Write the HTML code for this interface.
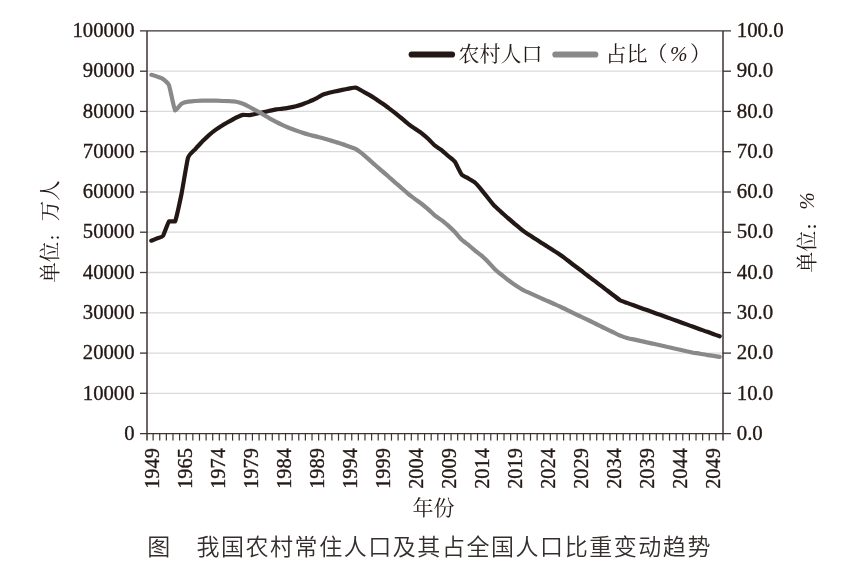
<!DOCTYPE html>
<html lang="zh-CN">
<head>
<meta charset="utf-8">
<title>我国农村常住人口及其占全国人口比重变动趋势</title>
<style>
html,body{margin:0;padding:0;background:#fff;}
body{width:847px;height:577px;overflow:hidden;}
svg{display:block;}
.num{font-family:"Liberation Serif","Noto Serif CJK SC",serif;font-size:21px;fill:#231815;stroke:#231815;stroke-width:0.35px;}
.cn{font-family:"Liberation Serif","Noto Serif CJK SC",serif;font-size:21px;fill:#231815;}
.title{font-family:"Liberation Sans","Noto Sans CJK SC",sans-serif;font-size:23px;letter-spacing:1.55px;font-weight:350;fill:#342e2c;}
</style>
</head>
<body>
<svg width="847" height="577" viewBox="0 0 847 577">
<rect width="847" height="577" fill="#fff"/>

<g stroke="#dadada" stroke-width="1.3">
<line x1="147.0" y1="393.3" x2="723.0" y2="393.3"/>
<line x1="147.0" y1="353.1" x2="723.0" y2="353.1"/>
<line x1="147.0" y1="312.8" x2="723.0" y2="312.8"/>
<line x1="147.0" y1="272.5" x2="723.0" y2="272.5"/>
<line x1="147.0" y1="232.2" x2="723.0" y2="232.2"/>
<line x1="147.0" y1="192.0" x2="723.0" y2="192.0"/>
<line x1="147.0" y1="151.7" x2="723.0" y2="151.7"/>
<line x1="147.0" y1="111.4" x2="723.0" y2="111.4"/>
<line x1="147.0" y1="71.2" x2="723.0" y2="71.2"/>
</g>
<path d="M151.3,240.7 C151.8,240.5 156.2,238.7 157.1,238.3 C158.1,237.9 162.0,237.3 163.0,235.9 C163.9,234.5 168.0,222.6 169.0,221.4 C170.0,221.4 174.0,221.4 175.1,221.4 C176.1,219.1 180.4,199.3 181.5,194.0 C182.6,188.7 186.9,161.5 188.0,157.8 C189.2,154.0 193.9,150.6 195.1,149.3 C196.2,148.0 201.0,142.9 202.2,141.6 C203.4,140.4 208.1,135.8 209.3,134.8 C210.5,133.8 215.1,130.2 216.2,129.4 C217.4,128.5 222.0,125.6 223.1,124.9 C224.3,124.2 228.7,121.7 229.8,121.1 C230.9,120.5 235.3,118.0 236.4,117.5 C237.5,117.0 241.9,115.1 243.0,114.9 C244.1,114.9 248.5,115.1 249.6,115.1 C250.7,115.0 255.1,113.9 256.2,113.7 C257.3,113.4 261.8,112.5 262.9,112.2 C264.0,112.0 268.4,111.1 269.5,110.8 C270.6,110.6 275.0,109.6 276.1,109.4 C277.2,109.2 281.6,108.8 282.7,108.6 C283.8,108.5 288.2,107.8 289.3,107.6 C290.4,107.4 294.9,106.5 296.0,106.2 C297.1,105.9 301.5,104.6 302.6,104.2 C303.7,103.8 308.1,102.0 309.2,101.6 C310.3,101.1 314.7,99.3 315.8,98.7 C316.9,98.1 321.3,95.3 322.4,94.8 C323.6,94.3 328.0,93.1 329.1,92.8 C330.2,92.5 334.6,91.6 335.7,91.3 C336.8,91.1 341.2,90.1 342.3,89.9 C343.4,89.7 347.8,88.8 348.9,88.6 C350.0,88.4 354.4,87.5 355.6,87.5 C356.7,87.7 361.1,90.4 362.2,91.0 C363.3,91.6 367.7,94.0 368.8,94.6 C369.9,95.3 374.3,98.0 375.4,98.7 C376.5,99.5 380.9,102.5 382.0,103.2 C383.1,104.0 387.6,107.2 388.7,108.1 C389.8,108.9 394.2,112.3 395.3,113.2 C396.4,114.1 400.8,117.6 401.9,118.5 C403.0,119.4 407.4,123.3 408.5,124.1 C409.6,125.0 414.0,128.0 415.1,128.7 C416.2,129.5 420.7,132.6 421.8,133.4 C422.9,134.3 427.3,138.0 428.4,139.0 C429.5,140.0 433.9,144.8 435.0,145.7 C436.1,146.6 440.5,149.2 441.6,150.1 C442.7,151.0 447.1,155.0 448.2,156.0 C449.3,157.0 453.8,160.3 454.9,161.8 C456.0,163.3 460.4,172.9 461.5,174.3 C462.6,175.6 467.0,177.6 468.1,178.3 C469.2,179.0 473.6,181.4 474.7,182.3 C475.8,183.3 480.2,188.3 481.3,189.6 C482.4,190.9 486.9,196.6 488.0,198.0 C489.1,199.4 493.5,204.9 494.6,206.1 C495.7,207.2 500.1,211.1 501.2,212.1 C502.3,213.1 506.7,217.0 507.8,218.0 C508.9,218.9 513.3,222.6 514.4,223.6 C515.6,224.6 520.5,228.8 521.6,229.6 C522.7,230.5 526.6,233.2 527.7,233.9 C528.8,234.6 533.2,237.4 534.3,238.2 C535.4,238.9 539.8,241.7 540.9,242.4 C542.0,243.1 546.4,246.0 547.6,246.7 C548.7,247.4 553.1,250.2 554.2,250.9 C555.3,251.7 559.7,254.4 560.8,255.2 C561.9,256.0 566.3,259.4 567.4,260.2 C568.5,261.1 572.9,264.4 574.0,265.3 C575.1,266.1 579.6,269.5 580.7,270.3 C581.8,271.1 586.2,274.5 587.3,275.3 C588.4,276.2 592.8,279.5 593.9,280.4 C595.0,281.2 599.4,284.6 600.5,285.4 C601.6,286.2 606.0,289.6 607.1,290.4 C608.2,291.3 612.7,294.6 613.8,295.5 C614.9,296.3 619.3,299.9 620.4,300.5 C621.5,301.1 625.9,302.5 627.0,302.9 C628.1,303.3 632.5,304.9 633.6,305.3 C634.7,305.7 639.1,307.3 640.2,307.7 C641.3,308.1 645.8,309.7 646.9,310.1 C648.0,310.5 652.4,312.1 653.5,312.5 C654.6,312.9 659.0,314.4 660.1,314.8 C661.2,315.2 665.6,316.8 666.7,317.2 C667.8,317.6 672.2,319.2 673.3,319.6 C674.4,320.0 678.9,321.6 680.0,322.0 C681.1,322.4 685.5,324.0 686.6,324.4 C687.7,324.8 692.1,326.4 693.2,326.8 C694.3,327.2 698.7,328.8 699.8,329.2 C700.9,329.6 705.3,331.2 706.4,331.6 C707.6,332.0 712.0,333.6 713.1,334.0 C714.2,334.4 719.1,336.1 719.7,336.3" fill="none" stroke="#231815" stroke-width="4.2" stroke-linejoin="round" stroke-linecap="round"/>
<path d="M151.3,74.8 C151.8,74.9 156.2,76.3 157.1,76.6 C158.1,77.0 162.0,78.3 163.0,79.0 C163.9,79.7 168.0,82.6 169.0,85.3 C170.0,87.9 174.0,108.9 175.1,110.4 C176.1,110.4 180.4,104.5 181.5,103.8 C182.6,103.1 186.9,101.8 188.0,101.6 C189.2,101.3 193.9,101.1 195.1,101.0 C196.2,100.9 201.0,100.6 202.2,100.6 C203.4,100.6 208.1,100.6 209.3,100.6 C210.5,100.6 215.1,100.6 216.2,100.6 C217.4,100.6 222.0,100.9 223.1,101.0 C224.3,101.0 228.7,101.1 229.8,101.2 C230.9,101.2 235.3,101.6 236.4,101.8 C237.5,102.0 241.9,103.4 243.0,103.8 C244.1,104.2 248.5,106.4 249.6,107.0 C250.7,107.6 255.1,110.0 256.2,110.6 C257.3,111.2 261.8,113.6 262.9,114.3 C264.0,114.9 268.4,117.6 269.5,118.3 C270.6,118.9 275.0,121.3 276.1,121.9 C277.2,122.5 281.6,124.6 282.7,125.1 C283.8,125.6 288.2,127.5 289.3,128.0 C290.4,128.4 294.9,130.0 296.0,130.4 C297.1,130.8 301.5,132.4 302.6,132.8 C303.7,133.2 308.1,134.5 309.2,134.8 C310.3,135.1 314.7,136.1 315.8,136.4 C316.9,136.7 321.3,137.7 322.4,138.0 C323.6,138.3 328.0,139.7 329.1,140.0 C330.2,140.4 334.6,141.7 335.7,142.0 C336.8,142.4 341.2,143.7 342.3,144.1 C343.4,144.4 347.8,146.1 348.9,146.5 C350.0,146.9 354.4,148.3 355.6,148.9 C356.7,149.5 361.1,152.8 362.2,153.6 C363.3,154.5 367.7,158.4 368.8,159.4 C369.9,160.4 374.3,164.2 375.4,165.2 C376.5,166.2 380.9,170.0 382.0,171.0 C383.1,171.9 387.6,175.8 388.7,176.8 C389.8,177.7 394.2,181.6 395.3,182.6 C396.4,183.5 400.8,187.4 401.9,188.3 C403.0,189.3 407.4,193.2 408.5,194.1 C409.6,195.0 414.0,198.2 415.1,199.1 C416.2,199.9 420.7,203.2 421.8,204.0 C422.9,204.9 427.3,208.5 428.4,209.5 C429.5,210.4 433.9,214.8 435.0,215.7 C436.1,216.6 440.5,219.3 441.6,220.1 C442.7,221.0 447.1,224.6 448.2,225.6 C449.3,226.6 453.8,230.9 454.9,232.0 C456.0,233.2 460.4,238.6 461.5,239.6 C462.6,240.7 467.0,243.8 468.1,244.7 C469.2,245.6 473.6,249.4 474.7,250.3 C475.8,251.2 480.2,254.5 481.3,255.4 C482.4,256.4 486.9,260.6 488.0,261.8 C489.1,262.9 493.5,267.8 494.6,268.9 C495.7,270.0 500.1,273.6 501.2,274.5 C502.3,275.4 506.7,278.9 507.8,279.8 C508.9,280.6 513.3,283.8 514.4,284.6 C515.6,285.4 520.5,288.6 521.6,289.2 C522.7,289.9 526.6,291.7 527.7,292.2 C528.8,292.7 533.2,294.6 534.3,295.1 C535.4,295.6 539.8,297.6 540.9,298.1 C542.0,298.6 546.4,300.6 547.6,301.0 C548.7,301.5 553.1,303.5 554.2,304.0 C555.3,304.5 559.7,306.4 560.8,307.0 C561.9,307.5 566.3,309.6 567.4,310.2 C568.5,310.7 572.9,312.8 574.0,313.3 C575.1,313.9 579.6,316.0 580.7,316.5 C581.8,317.1 586.2,319.2 587.3,319.7 C588.4,320.3 592.8,322.4 593.9,322.9 C595.0,323.5 599.4,325.6 600.5,326.1 C601.6,326.7 606.0,328.8 607.1,329.3 C608.2,329.9 612.7,332.0 613.8,332.5 C614.9,333.1 619.3,335.3 620.4,335.7 C621.5,336.2 625.9,337.7 627.0,338.0 C628.1,338.3 632.5,339.2 633.6,339.4 C634.7,339.7 639.1,340.7 640.2,340.9 C641.3,341.1 645.8,342.1 646.9,342.4 C648.0,342.6 652.4,343.6 653.5,343.8 C654.6,344.1 659.0,345.1 660.1,345.3 C661.2,345.6 665.6,346.5 666.7,346.8 C667.8,347.0 672.2,348.0 673.3,348.2 C674.4,348.5 678.9,349.5 680.0,349.7 C681.1,350.0 685.5,350.9 686.6,351.2 C687.7,351.4 692.1,352.4 693.2,352.7 C694.3,352.9 698.7,353.5 699.8,353.7 C700.9,353.9 705.3,354.6 706.4,354.8 C707.6,354.9 712.0,355.7 713.1,355.8 C714.2,356.0 719.1,356.8 719.7,356.9" fill="none" stroke="#898989" stroke-width="4.2" stroke-linejoin="round" stroke-linecap="round"/>
<g stroke="#3a3330" stroke-width="1.3" fill="none">
<line x1="140.0" y1="30.9" x2="731.0" y2="30.9"/>
<line x1="147.0" y1="30.9" x2="147.0" y2="440.6" stroke-width="1.5"/>
<line x1="723.0" y1="30.9" x2="723.0" y2="440.6" stroke-width="1.5"/>
<line x1="140.0" y1="433.6" x2="731.0" y2="433.6"/>
<line x1="140.0" y1="393.3" x2="147.0" y2="393.3"/>
<line x1="723.0" y1="393.3" x2="731.0" y2="393.3"/>
<line x1="140.0" y1="353.1" x2="147.0" y2="353.1"/>
<line x1="723.0" y1="353.1" x2="731.0" y2="353.1"/>
<line x1="140.0" y1="312.8" x2="147.0" y2="312.8"/>
<line x1="723.0" y1="312.8" x2="731.0" y2="312.8"/>
<line x1="140.0" y1="272.5" x2="147.0" y2="272.5"/>
<line x1="723.0" y1="272.5" x2="731.0" y2="272.5"/>
<line x1="140.0" y1="232.2" x2="147.0" y2="232.2"/>
<line x1="723.0" y1="232.2" x2="731.0" y2="232.2"/>
<line x1="140.0" y1="192.0" x2="147.0" y2="192.0"/>
<line x1="723.0" y1="192.0" x2="731.0" y2="192.0"/>
<line x1="140.0" y1="151.7" x2="147.0" y2="151.7"/>
<line x1="723.0" y1="151.7" x2="731.0" y2="151.7"/>
<line x1="140.0" y1="111.4" x2="147.0" y2="111.4"/>
<line x1="723.0" y1="111.4" x2="731.0" y2="111.4"/>
<line x1="140.0" y1="71.2" x2="147.0" y2="71.2"/>
<line x1="723.0" y1="71.2" x2="731.0" y2="71.2"/>
</g>
<g stroke="#3a3330" stroke-width="1.2">
<line x1="153.12" y1="433.6" x2="153.12" y2="440.6"/>
<line x1="159.74" y1="433.6" x2="159.74" y2="440.6"/>
<line x1="166.36" y1="433.6" x2="166.36" y2="440.6"/>
<line x1="172.98" y1="433.6" x2="172.98" y2="440.6"/>
<line x1="179.60" y1="433.6" x2="179.60" y2="440.6"/>
<line x1="186.22" y1="433.6" x2="186.22" y2="440.6"/>
<line x1="192.84" y1="433.6" x2="192.84" y2="440.6"/>
<line x1="199.47" y1="433.6" x2="199.47" y2="440.6"/>
<line x1="206.09" y1="433.6" x2="206.09" y2="440.6"/>
<line x1="212.71" y1="433.6" x2="212.71" y2="440.6"/>
<line x1="219.33" y1="433.6" x2="219.33" y2="440.6"/>
<line x1="225.95" y1="433.6" x2="225.95" y2="440.6"/>
<line x1="232.57" y1="433.6" x2="232.57" y2="440.6"/>
<line x1="239.19" y1="433.6" x2="239.19" y2="440.6"/>
<line x1="245.81" y1="433.6" x2="245.81" y2="440.6"/>
<line x1="252.43" y1="433.6" x2="252.43" y2="440.6"/>
<line x1="259.05" y1="433.6" x2="259.05" y2="440.6"/>
<line x1="265.67" y1="433.6" x2="265.67" y2="440.6"/>
<line x1="272.29" y1="433.6" x2="272.29" y2="440.6"/>
<line x1="278.91" y1="433.6" x2="278.91" y2="440.6"/>
<line x1="285.53" y1="433.6" x2="285.53" y2="440.6"/>
<line x1="292.16" y1="433.6" x2="292.16" y2="440.6"/>
<line x1="298.78" y1="433.6" x2="298.78" y2="440.6"/>
<line x1="305.40" y1="433.6" x2="305.40" y2="440.6"/>
<line x1="312.02" y1="433.6" x2="312.02" y2="440.6"/>
<line x1="318.64" y1="433.6" x2="318.64" y2="440.6"/>
<line x1="325.26" y1="433.6" x2="325.26" y2="440.6"/>
<line x1="331.88" y1="433.6" x2="331.88" y2="440.6"/>
<line x1="338.50" y1="433.6" x2="338.50" y2="440.6"/>
<line x1="345.12" y1="433.6" x2="345.12" y2="440.6"/>
<line x1="351.74" y1="433.6" x2="351.74" y2="440.6"/>
<line x1="358.36" y1="433.6" x2="358.36" y2="440.6"/>
<line x1="364.98" y1="433.6" x2="364.98" y2="440.6"/>
<line x1="371.60" y1="433.6" x2="371.60" y2="440.6"/>
<line x1="378.22" y1="433.6" x2="378.22" y2="440.6"/>
<line x1="384.84" y1="433.6" x2="384.84" y2="440.6"/>
<line x1="391.47" y1="433.6" x2="391.47" y2="440.6"/>
<line x1="398.09" y1="433.6" x2="398.09" y2="440.6"/>
<line x1="404.71" y1="433.6" x2="404.71" y2="440.6"/>
<line x1="411.33" y1="433.6" x2="411.33" y2="440.6"/>
<line x1="417.95" y1="433.6" x2="417.95" y2="440.6"/>
<line x1="424.57" y1="433.6" x2="424.57" y2="440.6"/>
<line x1="431.19" y1="433.6" x2="431.19" y2="440.6"/>
<line x1="437.81" y1="433.6" x2="437.81" y2="440.6"/>
<line x1="444.43" y1="433.6" x2="444.43" y2="440.6"/>
<line x1="451.05" y1="433.6" x2="451.05" y2="440.6"/>
<line x1="457.67" y1="433.6" x2="457.67" y2="440.6"/>
<line x1="464.29" y1="433.6" x2="464.29" y2="440.6"/>
<line x1="470.91" y1="433.6" x2="470.91" y2="440.6"/>
<line x1="477.53" y1="433.6" x2="477.53" y2="440.6"/>
<line x1="484.16" y1="433.6" x2="484.16" y2="440.6"/>
<line x1="490.78" y1="433.6" x2="490.78" y2="440.6"/>
<line x1="497.40" y1="433.6" x2="497.40" y2="440.6"/>
<line x1="504.02" y1="433.6" x2="504.02" y2="440.6"/>
<line x1="510.64" y1="433.6" x2="510.64" y2="440.6"/>
<line x1="517.26" y1="433.6" x2="517.26" y2="440.6"/>
<line x1="523.88" y1="433.6" x2="523.88" y2="440.6"/>
<line x1="530.50" y1="433.6" x2="530.50" y2="440.6"/>
<line x1="537.12" y1="433.6" x2="537.12" y2="440.6"/>
<line x1="543.74" y1="433.6" x2="543.74" y2="440.6"/>
<line x1="550.36" y1="433.6" x2="550.36" y2="440.6"/>
<line x1="556.98" y1="433.6" x2="556.98" y2="440.6"/>
<line x1="563.60" y1="433.6" x2="563.60" y2="440.6"/>
<line x1="570.22" y1="433.6" x2="570.22" y2="440.6"/>
<line x1="576.84" y1="433.6" x2="576.84" y2="440.6"/>
<line x1="583.47" y1="433.6" x2="583.47" y2="440.6"/>
<line x1="590.09" y1="433.6" x2="590.09" y2="440.6"/>
<line x1="596.71" y1="433.6" x2="596.71" y2="440.6"/>
<line x1="603.33" y1="433.6" x2="603.33" y2="440.6"/>
<line x1="609.95" y1="433.6" x2="609.95" y2="440.6"/>
<line x1="616.57" y1="433.6" x2="616.57" y2="440.6"/>
<line x1="623.19" y1="433.6" x2="623.19" y2="440.6"/>
<line x1="629.81" y1="433.6" x2="629.81" y2="440.6"/>
<line x1="636.43" y1="433.6" x2="636.43" y2="440.6"/>
<line x1="643.05" y1="433.6" x2="643.05" y2="440.6"/>
<line x1="649.67" y1="433.6" x2="649.67" y2="440.6"/>
<line x1="656.29" y1="433.6" x2="656.29" y2="440.6"/>
<line x1="662.91" y1="433.6" x2="662.91" y2="440.6"/>
<line x1="669.53" y1="433.6" x2="669.53" y2="440.6"/>
<line x1="676.16" y1="433.6" x2="676.16" y2="440.6"/>
<line x1="682.78" y1="433.6" x2="682.78" y2="440.6"/>
<line x1="689.40" y1="433.6" x2="689.40" y2="440.6"/>
<line x1="696.02" y1="433.6" x2="696.02" y2="440.6"/>
<line x1="702.64" y1="433.6" x2="702.64" y2="440.6"/>
<line x1="709.26" y1="433.6" x2="709.26" y2="440.6"/>
<line x1="715.88" y1="433.6" x2="715.88" y2="440.6"/>
</g>
<g class="num" text-anchor="end">
<text transform="translate(134.5,439.8) scale(0.985,1)">0</text>
<text transform="translate(134.5,399.5) scale(0.985,1)">10000</text>
<text transform="translate(134.5,359.3) scale(0.985,1)">20000</text>
<text transform="translate(134.5,319.0) scale(0.985,1)">30000</text>
<text transform="translate(134.5,278.7) scale(0.985,1)">40000</text>
<text transform="translate(134.5,238.4) scale(0.985,1)">50000</text>
<text transform="translate(134.5,198.2) scale(0.985,1)">60000</text>
<text transform="translate(134.5,157.9) scale(0.985,1)">70000</text>
<text transform="translate(134.5,117.6) scale(0.985,1)">80000</text>
<text transform="translate(134.5,77.4) scale(0.985,1)">90000</text>
<text transform="translate(134.5,37.1) scale(0.985,1)">100000</text>
</g>
<g class="num" text-anchor="start">
<text transform="translate(736.7,439.8) scale(0.995,1)">0.0</text>
<text transform="translate(736.7,399.5) scale(0.995,1)">10.0</text>
<text transform="translate(736.7,359.3) scale(0.995,1)">20.0</text>
<text transform="translate(736.7,319.0) scale(0.995,1)">30.0</text>
<text transform="translate(736.7,278.7) scale(0.995,1)">40.0</text>
<text transform="translate(736.7,238.4) scale(0.995,1)">50.0</text>
<text transform="translate(736.7,198.2) scale(0.995,1)">60.0</text>
<text transform="translate(736.7,157.9) scale(0.995,1)">70.0</text>
<text transform="translate(736.7,117.6) scale(0.995,1)">80.0</text>
<text transform="translate(736.7,77.4) scale(0.995,1)">90.0</text>
<text transform="translate(736.7,37.1) scale(0.995,1)">100.0</text>
</g>
<g class="num" text-anchor="end">
<text transform="translate(159.3,448.1) rotate(-90) scale(0.97,1)">1949</text>
<text transform="translate(192.3,448.1) rotate(-90) scale(0.97,1)">1965</text>
<text transform="translate(225.2,448.1) rotate(-90) scale(0.97,1)">1974</text>
<text transform="translate(258.2,448.1) rotate(-90) scale(0.97,1)">1979</text>
<text transform="translate(291.1,448.1) rotate(-90) scale(0.97,1)">1984</text>
<text transform="translate(324.1,448.1) rotate(-90) scale(0.97,1)">1989</text>
<text transform="translate(357.1,448.1) rotate(-90) scale(0.97,1)">1994</text>
<text transform="translate(390.0,448.1) rotate(-90) scale(0.97,1)">1999</text>
<text transform="translate(423.0,448.1) rotate(-90) scale(0.97,1)">2004</text>
<text transform="translate(455.9,448.1) rotate(-90) scale(0.97,1)">2009</text>
<text transform="translate(488.9,448.1) rotate(-90) scale(0.97,1)">2014</text>
<text transform="translate(521.9,448.1) rotate(-90) scale(0.97,1)">2019</text>
<text transform="translate(554.8,448.1) rotate(-90) scale(0.97,1)">2024</text>
<text transform="translate(587.8,448.1) rotate(-90) scale(0.97,1)">2029</text>
<text transform="translate(620.7,448.1) rotate(-90) scale(0.97,1)">2034</text>
<text transform="translate(653.7,448.1) rotate(-90) scale(0.97,1)">2039</text>
<text transform="translate(686.7,448.1) rotate(-90) scale(0.97,1)">2044</text>
<text transform="translate(719.6,448.1) rotate(-90) scale(0.97,1)">2049</text>
</g>
<text class="cn" text-anchor="middle" transform="translate(56.5,231.5) rotate(-90) scale(0.975,1)">单位<tspan font-size="14" font-weight="bold" dx="0.5" dy="2.2">：</tspan><tspan dx="6.5" dy="-2.2">万人</tspan></text>
<text class="cn" text-anchor="middle" transform="translate(814,232.4) rotate(-90)">单位<tspan font-size="14" font-weight="bold" dx="0.5" dy="2.2">：</tspan><tspan dx="6.5" dy="-2.2" font-style="italic">%</tspan></text>
<text class="cn" text-anchor="middle" x="433.6" y="515">年份</text>
<line x1="411.7" y1="54.5" x2="452" y2="54.5" stroke="#231815" stroke-width="6.2" stroke-linecap="round"/>
<text class="cn" x="458.5" y="60.5">农村人口</text>
<line x1="555.4" y1="54.5" x2="595.3" y2="54.5" stroke="#898989" stroke-width="6.2" stroke-linecap="round"/>
<text class="cn" x="605.5" y="60.5">占比<tspan dx="-1">（</tspan><tspan font-style="italic" dx="2.5">%</tspan><tspan dx="2.5">）</tspan></text>
<text class="title" x="147.3" y="555">图　我国农村常住人口及其占全国人口比重变动趋势</text>
</svg>
</body>
</html>
